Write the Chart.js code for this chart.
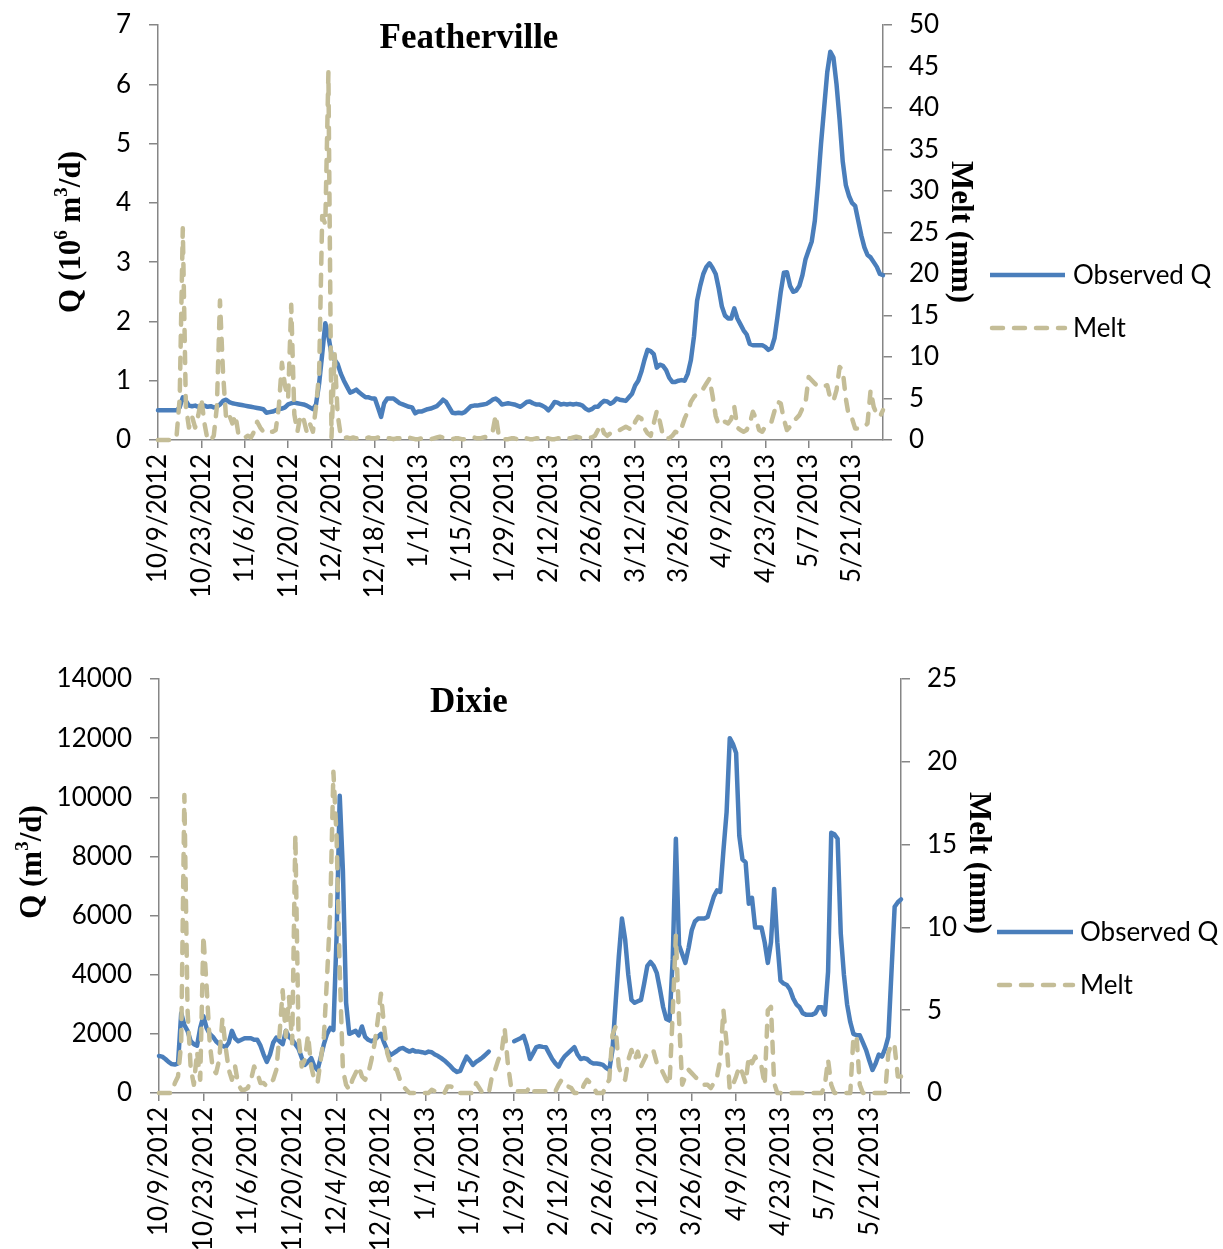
<!DOCTYPE html>
<html>
<head>
<meta charset="utf-8">
<script src="https://cdn.jsdelivr.net/npm/chart.js@4.4.1/dist/chart.umd.min.js"></script>
<style>
  html, body { margin: 0; padding: 0; background: #fff; }
  #wrap { position: relative; width: 1223px; height: 1249px; overflow: hidden; background: #fff; }
  #wrap canvas { position: absolute; left: 0; }
</style>
</head>
<body>
<div id="wrap">
  <canvas id="feather" width="1223" height="620" style="top:0"></canvas>
  <canvas id="dixie" width="1223" height="629" style="top:620px"></canvas>
</div>
<script>
// Daily series, 10/9/2012 .. 5/31/2013 (235 days)

// Featherville observed discharge, 10^6 m3/d
const qFeather = [
  0.50,0.50,0.50,0.50,0.50,0.50,0.50,0.55,0.72,0.66,0.58,0.57,0.58,0.56,
  0.57,0.58,0.56,0.57,0.55,0.56,0.60,0.66,0.68,0.64,0.62,0.61,0.60,0.59,
  0.58,0.57,0.56,0.55,0.54,0.53,0.52,0.46,0.47,0.48,0.50,0.52,0.53,0.55,
  0.60,0.62,0.63,0.62,0.61,0.60,0.58,0.55,0.52,0.60,0.95,1.45,1.97,1.75,
  1.45,1.35,1.28,1.12,1.00,0.90,0.80,0.82,0.85,0.80,0.76,0.72,0.72,0.70,
  0.70,0.55,0.39,0.62,0.70,0.70,0.70,0.66,0.62,0.60,0.58,0.56,0.55,0.45,
  0.48,0.48,0.50,0.52,0.53,0.55,0.57,0.62,0.68,0.64,0.55,0.46,0.45,0.46,
  0.45,0.47,0.52,0.57,0.58,0.58,0.59,0.60,0.61,0.64,0.68,0.70,0.66,0.60,
  0.61,0.62,0.61,0.60,0.58,0.56,0.60,0.64,0.65,0.62,0.60,0.60,0.58,0.55,
  0.50,0.56,0.64,0.63,0.60,0.61,0.60,0.61,0.60,0.61,0.60,0.58,0.53,0.50,
  0.52,0.56,0.56,0.62,0.66,0.65,0.61,0.64,0.70,0.68,0.67,0.66,0.72,0.78,
  0.92,1.00,1.15,1.35,1.52,1.50,1.45,1.22,1.27,1.25,1.18,1.05,0.98,0.98,
  1.00,1.01,1.00,1.12,1.35,1.75,2.35,2.60,2.80,2.92,2.98,2.90,2.80,2.55,
  2.25,2.10,2.05,2.05,2.22,2.05,1.95,1.85,1.78,1.62,1.60,1.60,1.60,1.60,
  1.57,1.52,1.55,1.72,2.10,2.50,2.82,2.83,2.60,2.50,2.52,2.60,2.78,3.05,
  3.20,3.35,3.70,4.30,5.00,5.60,6.20,6.55,6.45,6.00,5.40,4.70,4.30,4.12,
  4.00,3.95,3.70,3.45,3.25,3.12,3.08,3.00,2.92,2.80,2.78
];

// Featherville melt, mm
const meltFeather = [
  0,0,0,0,0,0,0.5,5,25.5,4,1.5,2.8,1.5,3,
  5,2,0,0,0.5,4,16.8,8,2.5,3,2,3,0.6,0.3,
  0.3,0.5,0.3,1,2.2,1.5,1,0.8,1,1,1.2,4,9.3,6.5,
  5,16.3,3.1,1,3,2.5,1,2,1,4,8,27,26,44.3,
  0.3,10.5,3,0.5,0.2,0.3,0.2,0.3,0.2,0.3,0.2,0.2,0.3,0.2,
  0.2,0.3,0.2,0.3,0.2,0.2,0.1,0.2,0.2,0.1,0.2,0.3,0.2,0.1,
  0.1,0.2,0.2,0.1,0.1,0.2,0.3,0.4,0.3,0.2,0.1,0.1,0.2,0.2,
  0.1,0.1,0.2,0.2,0.3,0.2,0.2,0.3,0.4,0.5,1,3,0.5,0.2,
  0.1,0.1,0.2,0.2,0.1,0.1,0.3,0.2,0.1,0.1,0.2,0.2,0.1,0.3,
  0.2,0.1,0.1,0.2,0.2,0.3,0.2,0.2,0.3,0.4,0.3,0.2,0.2,0.3,
  0.3,0.5,1.2,1.8,0.8,0.5,0.8,1.0,1.2,1.2,1.4,1.6,1.4,1.2,
  2.2,2.8,2.6,1.4,0.8,0.5,2.0,3.5,2.2,0.5,0.2,0.2,0.5,1.0,
  0.8,1.5,2.6,3.4,4.6,5.2,5.6,5.8,6.2,6.8,7.4,5.3,2.9,1.8,
  2.0,2.2,2.0,2.5,4.0,1.5,1.2,1.0,1.2,2.0,3.4,2.6,1.2,1.0,
  1.6,2.0,2.2,3.5,4.6,4.4,2.5,1.2,1.6,2.2,2.6,3.0,3.8,4.5,
  7.6,7.2,6.8,6.5,6.4,6.5,6.6,5.0,4.7,6.0,8.8,8.4,5.0,2.8,
  2.6,1.4,1.4,1.5,1.6,2.0,6.0,4.0,3.1,2.8,3.6
];

// Dixie observed discharge, m3/d (null = missing record)
const qDixie = [
  1250,1230,1150,1050,980,960,1000,2700,2300,2100,1750,1650,1600,2200,
  2600,2200,2000,1900,1750,1650,1600,1550,1700,2100,1850,1750,1800,1850,
  1850,1850,1800,1800,1600,1300,1050,1300,1700,1870,1750,1650,2100,1900,
  1800,1650,1500,1200,950,1050,1180,900,780,1200,1650,2000,2200,2130,
  5300,10050,7500,3050,2000,2050,2100,1950,2250,1900,1800,1750,1800,1900,
  2000,1700,1450,1280,1350,1420,1500,1520,1450,1400,1450,1400,1400,1380,
  1350,1400,1380,1300,1250,1180,1100,1000,900,780,710,750,1000,1230,
  1100,950,1050,1120,1200,1300,1400,null,null,null,null,null,null,null,
  1750,1800,1850,1930,1600,1150,1350,1550,1580,1560,1550,1350,1150,1000,
  890,1100,1250,1350,1450,1550,1300,1150,1180,1150,1050,1000,1000,980,
  950,850,780,1450,3050,4600,5900,5200,4000,3150,3050,3100,3150,3700,
  4300,4430,4300,4050,3500,2900,2500,2450,4500,8600,5000,4700,4400,4900,
  5500,5800,5900,5900,5900,5950,6300,6650,6850,6800,8200,9500,12000,11800,
  11500,8700,7900,7800,6400,6600,5600,5600,5600,5100,4400,5100,6900,5100,
  3800,3700,3650,3500,3200,3000,2900,2700,2650,2650,2650,2700,2900,2900,
  2650,4100,8800,8750,8600,5400,4000,3000,2400,2000,1950,1950,1700,1450,
  1100,780,1000,1300,1230,1500,1900,4100,6300,6450,6550
];

// Dixie melt, mm
const meltDixie = [
  0,0,0,0,0,0.6,1.0,3,18,5,1.5,0.5,2.5,0.8,
  9.5,6.5,3,1.4,1.2,2,4.5,2.8,1.4,0.8,1.6,0.5,0.2,0.2,
  0.3,0.8,1.6,1.2,0.6,0.6,0.4,0.6,0.8,1.4,3.5,6.2,3.4,5.8,
  3.0,15.6,3.4,1.6,2.0,3.5,1.6,0.8,0.6,2.0,3.4,7,11,19.4,
  15.5,7.4,1.4,0.5,0.2,0.8,1.2,1.6,1.0,0.8,1.2,2.0,3.0,4.4,
  6.0,4.0,2.4,1.8,1.5,1.4,0.8,0.4,0.2,0,0,0,0,0,
  0,0,0.2,0.1,0,0,0,0.4,0.4,0.3,0.2,0,0,0,
  0,0,0.6,0.3,0,0,0,1.0,1.4,2.0,2.4,3.9,1.8,0.4,
  0.1,0.1,0.1,0.1,0.1,0.4,0.1,0.1,0.1,0.1,0.1,0.1,0.1,0.1,
  0.5,0.8,0.6,0.4,0.3,0,0,0,0.5,0.8,0.6,0.4,0,0,
  0,0.5,0.8,3.5,4.0,1.6,1.0,0.8,2.0,2.6,2.0,2.5,1.6,2.0,
  2.4,2.6,2.5,1.8,1.6,1.2,0.8,0.5,4.8,9.5,4.5,0.5,1.0,1.4,
  1.2,1.0,0.8,0.6,0.5,0.5,0.3,0.6,1.0,2.0,5.0,3.0,0.2,0.5,
  1.0,1.6,1.2,0.6,2.2,1.8,2.2,1.8,1.6,0.5,5.0,5.2,0.6,0,
  0,0,0,0,0,0,0,0,0,0,0,0,0,0,
  0.5,2.0,0.5,0,0,0,0,0,0,3.4,3.4,0.5,0,0,
  0,0,0,0,0,0,2.4,3.0,2.8,1.0,1.0
];

// Date axis labels, one every 14 days
const tickLabels = [
  '10/9/2012','10/23/2012','11/6/2012','11/20/2012','12/4/2012','12/18/2012',
  '1/1/2013','1/15/2013','1/29/2013','2/12/2013','2/26/2013','3/12/2013',
  '3/26/2013','4/9/2013','4/23/2013','5/7/2013','5/21/2013'
];
const TICK_STEP = 14;

// Calendar dates of the daily records (for tooltips)
const dates = qFeather.map((_, i) => {
  const d = new Date(2012, 9, 9 + i);
  return (d.getMonth() + 1) + '/' + d.getDate() + '/' + d.getFullYear();
});

const BLUE = '#4A7EBB';
const TAN = '#C4BD97';
const AXIS = '#868686';
const TICK_FONT = { family: 'Lato', size: 26 };
const LINE_W = 4.5;

const toPoints = arr => arr.map((v, i) => ({ x: i, y: v }));

// Draws a string made of normal and superscript runs, centred at (0,0)
function drawRich(ctx, runs, size) {
  const big = 'bold ' + size + 'px "Liberation Serif"';
  const small = 'bold ' + Math.round(size * 0.62) + 'px "Liberation Serif"';
  let total = 0;
  runs.forEach(r => { ctx.font = r.sup ? small : big; r.w = ctx.measureText(r.t).width; total += r.w; });
  let x = -total / 2;
  ctx.textAlign = 'left';
  runs.forEach(r => {
    ctx.font = r.sup ? small : big;
    ctx.textBaseline = 'alphabetic';
    ctx.fillText(r.t, x, r.sup ? size * 0.32 - size * 0.42 : size * 0.32);
    x += r.w;
  });
}

const decor = {
  id: 'decor',
  afterDraw(chart, args, o) {
    const ctx = chart.ctx;
    ctx.save();
    ctx.fillStyle = '#000';

    // panel title
    ctx.font = 'bold ' + o.titleSize + 'px "Liberation Serif"';
    ctx.textAlign = 'center';
    ctx.textBaseline = 'alphabetic';
    ctx.fillText(o.title, o.titleX, o.titleY);

    // left axis title (reads bottom to top)
    ctx.save();
    ctx.translate(o.qTitleX, o.qTitleY);
    ctx.rotate(-Math.PI / 2);
    drawRich(ctx, o.qTitle, 31);
    ctx.restore();

    // right axis title (reads top to bottom)
    ctx.save();
    ctx.translate(o.mTitleX, o.mTitleY);
    ctx.rotate(Math.PI / 2);
    drawRich(ctx, [{ t: 'Melt (mm)' }], 31);
    ctx.restore();

    // legend
    const items = [
      { ds: chart.data.datasets.find(d => d.label === 'Observed Q'), y: o.legY[0] },
      { ds: chart.data.datasets.find(d => d.label === 'Melt'), y: o.legY[1] }
    ];
    items.forEach(it => {
      ctx.save();
      ctx.strokeStyle = it.ds.borderColor;
      ctx.lineWidth = it.ds.borderWidth;
      ctx.lineCap = it.ds.borderDash ? 'round' : 'butt';
      ctx.setLineDash(it.ds.borderDash || []);
      ctx.beginPath();
      ctx.moveTo(o.legX0 + (it.ds.borderDash ? 2 : 0), it.y);
      ctx.lineTo(o.legX1, it.y);
      ctx.stroke();
      ctx.restore();
      ctx.font = '26px Lato';
      ctx.textAlign = 'left';
      ctx.textBaseline = 'middle';
      ctx.fillStyle = '#000';
      ctx.fillText(it.ds.label, o.legText, it.y + 1);
    });
    ctx.restore();
  }
};

// Keep the plot rectangle exactly where the layout asks for it
const noPad = s => { s.paddingTop = 0; s.paddingBottom = 0; s.paddingLeft = 0; s.paddingRight = 0; };

function makeChart(id, cfg) {
  return new Chart(document.getElementById(id), {
    type: 'line',
    data: {
      datasets: [
        {
          label: 'Melt', data: toPoints(cfg.melt), yAxisID: 'y1',
          borderColor: TAN, backgroundColor: TAN, borderWidth: LINE_W,
          borderDash: [11, 11], borderCapStyle: 'round', borderJoinStyle: 'round',
          pointRadius: 0, tension: 0, order: 0, clip: 8
        },
        {
          label: 'Observed Q', data: toPoints(cfg.q), yAxisID: 'y',
          borderColor: BLUE, backgroundColor: BLUE, borderWidth: LINE_W,
          borderJoinStyle: 'round', borderCapStyle: 'round',
          pointRadius: 0, tension: 0, order: 1, spanGaps: false, clip: 8
        }
      ]
    },
    options: {
      responsive: false,
      animation: false,
      devicePixelRatio: 1,
      layout: { padding: { left: 0, top: cfg.top, right: cfg.right, bottom: 0 } },
      plugins: {
        legend: { display: false },
        title: { display: false },
        tooltip: { callbacks: { title: items => dates[items[0].parsed.x] } },
        decor: cfg.decor
      },
      scales: {
        x: {
          type: 'linear', min: 0, max: qFeather.length - 1,
          afterFit: s => { s.height = cfg.xHeight; noPad(s); },
          afterBuildTicks: s => { s.ticks = tickLabels.map((_, k) => ({ value: k * TICK_STEP })); },
          border: { color: AXIS, width: 1.5 },
          grid: { drawOnChartArea: false, drawTicks: true, tickLength: 8, color: AXIS, lineWidth: 1.5 },
          ticks: {
            autoSkip: false, maxRotation: 90, minRotation: 90, padding: 6,
            color: '#000', font: TICK_FONT,
            callback: v => tickLabels[Math.round(v / TICK_STEP)]
          }
        },
        y: {
          position: 'left', min: 0, max: cfg.qMax,
          afterFit: s => { s.width = cfg.left; noPad(s); },
          border: { color: AXIS, width: 1.5 },
          grid: { drawOnChartArea: false, drawTicks: true, tickLength: 9, color: AXIS, lineWidth: 1.5 },
          ticks: { stepSize: cfg.qStep, padding: 18, color: '#000', font: TICK_FONT, callback: v => String(v) }
        },
        y1: {
          position: 'right', min: 0, max: cfg.mMax,
          afterFit: s => { s.width = 100; noPad(s); },
          border: { color: AXIS, width: 1.5 },
          grid: { drawOnChartArea: false, drawTicks: true, tickLength: 9, color: AXIS, lineWidth: 1.5 },
          ticks: { stepSize: 5, padding: 17, color: '#000', font: TICK_FONT, callback: v => String(v) }
        }
      }
    },
    plugins: [decor]
  });
}

makeChart('feather', {
  q: qFeather, melt: meltFeather,
  qMax: 7, qStep: 1, mMax: 50,
  top: 25, right: 240, left: 158, xHeight: 180,
  decor: {
    title: 'Featherville', titleSize: 35, titleX: 469, titleY: 48,
    qTitle: [{ t: 'Q (10' }, { t: '6', sup: true }, { t: ' m' }, { t: '3', sup: true }, { t: '/d)' }],
    qTitleX: 70, qTitleY: 232, mTitleX: 962, mTitleY: 232,
    legX0: 990, legX1: 1065, legText: 1073, legY: [275, 328]
  }
});

makeChart('dixie', {
  q: qDixie, melt: meltDixie,
  qMax: 14000, qStep: 2000, mMax: 25,
  top: 59, right: 222, left: 159, xHeight: 156,
  decor: {
    title: 'Dixie', titleSize: 35, titleX: 469, titleY: 92,
    qTitle: [{ t: 'Q (m' }, { t: '3', sup: true }, { t: '/d)' }],
    qTitleX: 31, qTitleY: 242, mTitleX: 980, mTitleY: 243,
    legX0: 997, legX1: 1073, legText: 1080, legY: [312, 365]
  }
});
</script>
</body>
</html>
